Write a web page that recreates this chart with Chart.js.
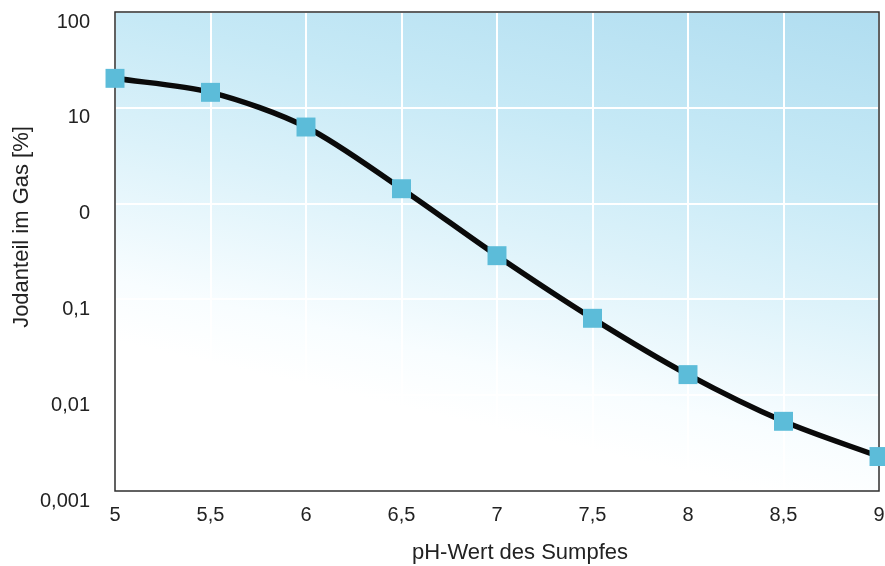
<!DOCTYPE html>
<html>
<head>
<meta charset="utf-8">
<script src="https://cdn.jsdelivr.net/npm/chart.js@4/dist/chart.umd.min.js"></script>
<style>
  html, body { margin: 0; padding: 0; background: #ffffff; }
  #wrap { width: 885px; height: 566px; position: relative; }
</style>
</head>
<body>
<div id="wrap"><canvas id="c" width="885" height="566"></canvas></div>
<script>
// pH of the sump vs. iodine fraction in the gas (log scale)
const phValues = [5, 5.5, 6, 6.5, 7, 7.5, 8, 8.5, 9];
const iodineShare = [20.3, 14.5, 6.3, 1.43, 0.286, 0.0635, 0.0164, 0.00534, 0.00229];

const yTickValues = [100, 10, 1, 0.1, 0.01, 0.001];
const yTickLabels = ['100', '10', '0', '0,1', '0,01', '0,001'];
const xTickValues = [5, 5.5, 6, 6.5, 7, 7.5, 8, 8.5, 9];
const xTickLabels = ['5', '5,5', '6', '6,5', '7', '7,5', '8', '8,5', '9'];

const xTitle = 'pH-Wert des Sumpfes';
const yTitle = 'Jodanteil im Gas [%]';

const FONT = "'Liberation Sans', Arial, Helvetica, sans-serif";
const TEXT = '#222222';

// soft blue wash behind the plot, fading towards the lower left
const plotBackground = {
  id: 'plotBackground',
  beforeDraw(chart) {
    const { ctx, chartArea: a } = chart;
    ctx.save();
    const g = ctx.createLinearGradient(a.right, a.top, a.right - 110, a.bottom);
    g.addColorStop(0, '#b0ddf0');
    g.addColorStop(0.35, '#c6e9f6');
    g.addColorStop(0.6, '#dcf2fa');
    g.addColorStop(0.88, '#f8fdff');
    g.addColorStop(1, '#ffffff');
    ctx.fillStyle = g;
    ctx.fillRect(a.left, a.top, a.right - a.left, a.bottom - a.top);
    ctx.restore();
  }
};

// dark frame round the plot area
const plotFrame = {
  id: 'plotFrame',
  beforeDatasetsDraw(chart) {
    const { ctx, chartArea: a } = chart;
    ctx.save();
    ctx.strokeStyle = '#2e2e2e';
    ctx.lineWidth = 1.5;
    ctx.strokeRect(a.left, a.top, a.right - a.left, a.bottom - a.top);
    ctx.restore();
  }
};

// axis titles
const axisTitles = {
  id: 'axisTitles',
  afterDraw(chart) {
    const { ctx } = chart;
    ctx.save();
    ctx.fillStyle = TEXT;
    ctx.font = '22px ' + FONT;
    ctx.textAlign = 'center';
    ctx.textBaseline = 'middle';
    ctx.fillText(xTitle, 520, 553);
    ctx.translate(22, 227);
    ctx.rotate(-Math.PI / 2);
    ctx.fillText(yTitle, 0, 0);
    ctx.restore();
  }
};

new Chart(document.getElementById('c'), {
  type: 'line',
  data: {
    datasets: [{
      data: phValues.map((x, i) => ({ x, y: iodineShare[i] })),
      borderColor: '#0a0a0a',
      borderWidth: 5.5,
      tension: 0.3,
      pointStyle: 'rect',
      pointRadius: 13.4,
      pointHoverRadius: 13.4,
      pointBackgroundColor: '#5cbcd9',
      pointBorderWidth: 0,
      clip: false
    }]
  },
  options: {
    responsive: false,
    animation: false,
    events: [],
    layout: { autoPadding: false, padding: { left: 0, right: 6, top: 12, bottom: 0 } },
    plugins: { legend: { display: false }, tooltip: { enabled: false } },
    scales: {
      x: {
        type: 'linear',
        min: 5, max: 9,
        afterBuildTicks(s) { s.ticks = xTickValues.map(v => ({ value: v })); },
        afterFit(s) { s.height = 75; s.paddingLeft = 0; s.paddingRight = 0; },
        grid: { color: '#ffffff', lineWidth: 2, drawTicks: false },
        border: { display: false },
        ticks: {
          padding: 12,
          color: TEXT,
          font: { family: FONT, size: 20 },
          maxRotation: 0,
          callback: (v) => xTickLabels[xTickValues.indexOf(v)]
        }
      },
      y: {
        type: 'logarithmic',
        min: 0.001, max: 100,
        afterBuildTicks(s) { s.ticks = yTickValues.map(v => ({ value: v })); },
        afterFit(s) { s.width = 115; s.paddingTop = 0; s.paddingBottom = 0; },
        grid: { color: '#ffffff', lineWidth: 2, drawTicks: false },
        border: { display: false },
        ticks: {
          padding: 25,
          labelOffset: 10,
          color: TEXT,
          font: { family: FONT, size: 20 },
          callback: (v) => yTickLabels[yTickValues.indexOf(v)]
        }
      }
    }
  },
  plugins: [plotBackground, plotFrame, axisTitles]
});
</script>
</body>
</html>
